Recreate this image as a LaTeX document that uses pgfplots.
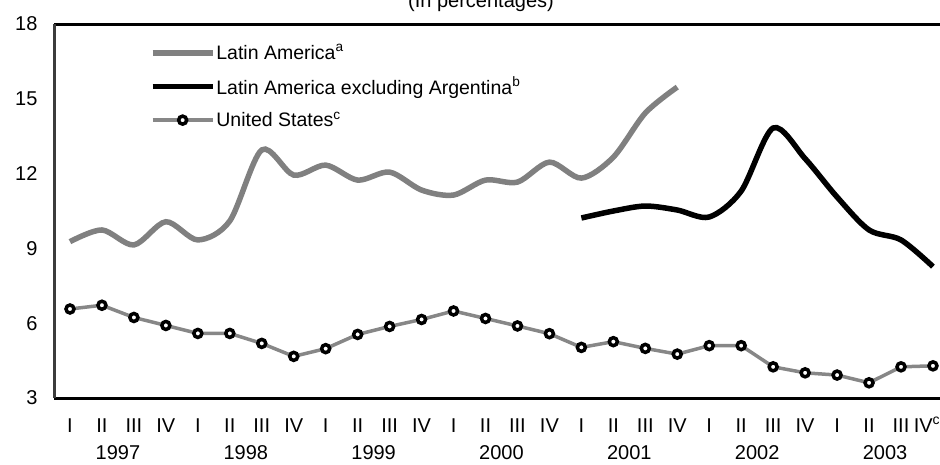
\documentclass[border=0pt]{standalone}
\usepackage{fontspec}
\setmainfont{Liberation Sans}
\usepackage{pgfplots}
\pgfplotsset{compat=1.18}
\definecolor{lagray}{RGB}{128,128,128}
\definecolor{usgray}{RGB}{135,135,135}
\definecolor{framegray}{RGB}{60,60,60}
\begin{document}
\begin{tikzpicture}
\begin{axis}[
  at={(54pt,-398pt)}, anchor=south west,
  scale only axis, width=886pt, height=374pt,
  xmin=-0.5, xmax=27.22, ymin=3, ymax=18,
  clip=false,
  ytick={3,6,9,12,15,18},
  xtick={0,...,26},
  xticklabels={I,II,III,IV,I,II,III,IV,I,II,III,IV,I,II,III,IV,I,II,III,IV,I,II,III,IV,I,II,III},
  major tick length=0pt,
  axis line style={draw=none},
  /pgf/number format/assume math mode=true,
  tick label style={font=\fontsize{20}{23}\selectfont},
  yticklabel style={anchor=east, xshift=-13pt},
  xticklabel style={anchor=base, yshift=-34pt},
  legend style={draw=none, fill=none, at={(rel axis cs:0.108,0.948)}, anchor=north west,
    font=\fontsize{19.5}{22}\selectfont, row sep=14pt, cells={anchor=west},
    inner sep=0pt, nodes={inner sep=1pt}},
  legend image code/.code={\draw[mark repeat=2,mark phase=2,#1] plot coordinates {(0pt,0pt) (30pt,0pt) (60pt,0pt)};},
]
\addplot[lagray, line width=5.5pt, smooth, tension=0.5] coordinates {
(0,9.27) (1,9.74) (2,9.14) (3,10.07) (4,9.34) (5,10.1) (6,12.95) (7,11.94)
(8,12.34) (9,11.74) (10,12.06) (11,11.34) (12,11.14) (13,11.74) (14,11.66) (15,12.46)
(16,11.82) (17,12.66) (18,14.43) (19,15.47)};
\addlegendentry{Latin America\textsuperscript{a}}
\addplot[black, line width=5.5pt, smooth, tension=0.5] coordinates {
(16,10.22) (17,10.5) (18,10.7) (19,10.54) (20,10.26) (21,11.3) (22,13.83) (23,12.6)
(24,11.06) (25,9.74) (26,9.34) (27,8.27)};
\addlegendentry{Latin America excluding Argentina\textsuperscript{b}}
\addplot[usgray, line width=3.5pt, mark=*, mark size=4pt,
  mark options={draw=black, fill=white, line width=3.5pt}] coordinates {
(0,6.57) (1,6.72) (2,6.23) (3,5.91) (4,5.59) (5,5.59) (6,5.19) (7,4.67)
(8,4.98) (9,5.55) (10,5.87) (11,6.15) (12,6.49) (13,6.19) (14,5.89) (15,5.58)
(16,5.03) (17,5.26) (18,4.99) (19,4.76) (20,5.10) (21,5.10) (22,4.25) (23,4.01)
(24,3.92) (25,3.61) (26,4.25) (27,4.29)};
\addlegendentry{United States\textsuperscript{c}}
\draw[black, line width=3pt] (rel axis cs:0,1) -- (rel axis cs:1,1);
\draw[black, line width=3pt] (rel axis cs:0,0) -- (rel axis cs:1,0);
\draw[framegray, line width=3pt] (rel axis cs:0,0) -- (rel axis cs:0,1);
\node[anchor=base, font=\fontsize{20}{23}\selectfont, yshift=-34pt, xshift=-6pt, inner sep=0pt] at (axis cs:27,3) {IV\textsuperscript{c}};
\foreach \yr/\xp in {1997/1.5,1998/5.5,1999/9.5,2000/13.5,2001/17.5,2002/21.5,2003/25.5} {
  \edef\tmp{\noexpand\node[anchor=base, inner sep=0pt, font=\noexpand\fontsize{20}{23}\noexpand\selectfont, yshift=-61pt] at (axis cs:\xp,3) {\yr};}
  \tmp
}
\end{axis}
\node[anchor=base, font=\fontsize{20}{22}\selectfont] at (481pt,-7pt) {(In percentages)};
\pgfresetboundingbox
\useasboundingbox (0,0) rectangle (940pt,-464pt);
\end{tikzpicture}
\end{document}
